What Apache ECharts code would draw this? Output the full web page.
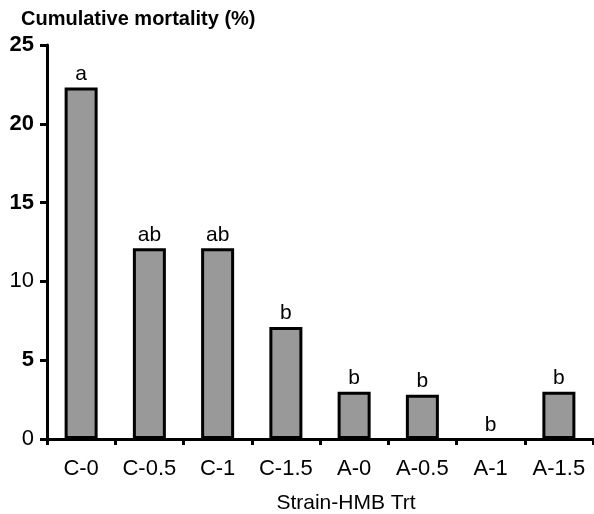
<!DOCTYPE html>
<html>
<head>
<meta charset="utf-8">
<script src="https://cdn.jsdelivr.net/npm/echarts@6/dist/echarts.min.js"></script>
<style>html,body{margin:0;padding:0;background:#fff}#c{width:594px;height:514px}</style>
</head>
<body>
<div id="c"></div>
<script>
var categories = ['C-0', 'C-0.5', 'C-1', 'C-1.5', 'A-0', 'A-0.5', 'A-1', 'A-1.5'];
var mortality = [22.3, 12.1, 12.1, 7.1, 3.0, 2.8, 0, 3.0];
var letters = ['a', 'ab', 'ab', 'b', 'b', 'b', 'b', 'b'];
var yTicks = [0, 5, 10, 15, 20, 25];

var FONT = '"Liberation Sans", Arial, sans-serif';
var chart = echarts.init(document.getElementById('c'), null, {renderer: 'canvas'});
chart.setOption({
  animation: false,
  title: {
    text: 'Cumulative mortality (%)',
    left: 16, top: 4,
    textStyle: {fontFamily: FONT, fontSize: 20, fontWeight: 'bold', color: '#000'}
  },
  grid: {left: 47, right: 1, top: 45, bottom: 75, containLabel: false, outerBoundsMode: 'none'},
  xAxis: {
    type: 'category',
    data: categories,
    name: 'Strain-HMB Trt',
    nameLocation: 'middle',
    nameGap: 54,
    nameTextStyle: {fontFamily: FONT, fontSize: 21, color: '#000', padding: [0, 0, 0, 52]},
    axisLine: {lineStyle: {color: '#000', width: 3}},
    axisTick: {show: true, alignWithLabel: false, interval: 0, length: 6, lineStyle: {color: '#000', width: 3}},
    axisLabel: {fontFamily: FONT, fontSize: 22, color: '#000', margin: 19, interval: 0, hideOverlap: false}
  },
  yAxis: {
    type: 'value',
    min: yTicks[0], max: yTicks[yTicks.length - 1], interval: 5,
    splitLine: {show: false},
    axisLine: {show: true, lineStyle: {color: '#000', width: 3}},
    axisTick: {show: true, length: 7, lineStyle: {color: '#000', width: 3}},
    axisLabel: {
      fontFamily: FONT, fontSize: 22, color: '#000', margin: 13,
      formatter: function (v) { return (v === 10 || v === 0) ? '{n|' + v + '}' : '{b|' + v + '}'; },
      rich: {
        b: {fontFamily: FONT, fontSize: 22, fontWeight: 'bold', color: '#000'},
        n: {fontFamily: FONT, fontSize: 22, color: '#000'}
      }
    }
  },
  series: [{
    type: 'bar',
    data: mortality.map(function (v) {
      return v === 0 ? {value: v, itemStyle: {borderWidth: 0}} : v;
    }),
    barWidth: 33,
    itemStyle: {color: '#999999', borderColor: '#000', borderWidth: 3},
    label: {
      show: true, position: 'top', distance: 3,
      fontFamily: FONT, fontSize: 21, color: '#000',
      formatter: function (p) { return letters[p.dataIndex]; }
    }
  }]
});
</script>
</body>
</html>
